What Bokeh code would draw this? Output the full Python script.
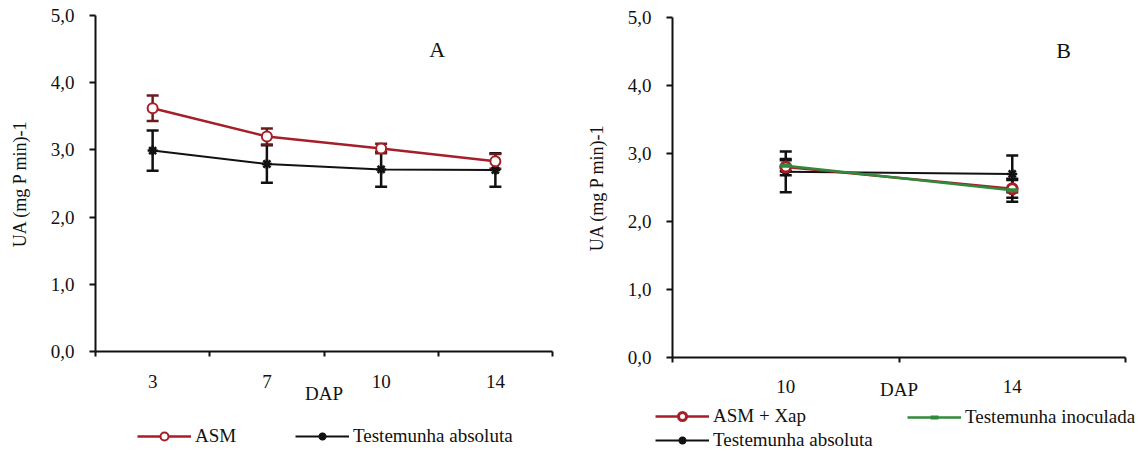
from bokeh.plotting import figure
from bokeh.models import (Range1d, FixedTicker, CustomJSTickFormatter, Whisker, TeeHead,
                          ColumnDataSource, Legend, LegendItem, Label)
from bokeh.layouts import row, column
from bokeh.embed import file_html
from bokeh.resources import INLINE

FONT = "Liberation Serif"
RED = "#A61E28"
RED_ERR = "#6A1C1C"
GREEN = "#2F8A3C"
BLACK = "#111111"

# ---------------- data ----------------
# Panel A
dap_a = ["3", "7", "10", "14"]
asm_a = [3.62, 3.20, 3.02, 2.83]
asm_a_err = [0.19, 0.12, 0.07, 0.11]
abs_a = [2.99, 2.79, 2.71, 2.70]
abs_a_err = [0.30, 0.28, 0.26, 0.25]

# Panel B
dap_b = ["10", "14"]
asmx_b = [2.80, 2.48]
asmx_b_err = [0.12, 0.13]
inoc_b = [2.82, 2.46]
inoc_b_err = [0.08, 0.17]
abs_b = [2.73, 2.70]
abs_b_err = [0.30, 0.27]

y_ticks = [0, 1, 2, 3, 4, 5]

STY = {
    "asm": dict(color=RED, marker="circle", size=10, mlw=2, fill="white", lw=2.5),
    "asmx": dict(color=RED, marker="circle", size=10, mlw=3, fill="white", lw=2.5),
    "abs": dict(color=BLACK, marker="asterisk", size=10, mlw=2.5, fill=BLACK, lw=2),
    "inoc": dict(color=GREEN, marker="dash", size=11, mlw=4, fill=GREEN, lw=2.5),
}


def no_align(f):
    try:
        f.frame_align = False
    except Exception:
        pass


def make_fig(width, height, cats, bl, br, bt, bb, x_standoff, dap_standoff):
    n = len(cats)
    p = figure(width=width, height=height, x_range=Range1d(0, n), y_range=Range1d(0, 5),
               output_backend="svg", toolbar_location=None,
               min_border_left=bl, min_border_right=br, min_border_top=bt, min_border_bottom=bb)
    no_align(p)
    p.outline_line_color = None
    p.grid.visible = False
    xa = p.xaxis[0]
    xa.ticker = FixedTicker(ticks=[i + 0.5 for i in range(n)], minor_ticks=list(range(n + 1)))
    xa.formatter = CustomJSTickFormatter(args=dict(labels=cats), code="return labels[Math.floor(tick)];")
    xa.major_tick_line_color = None
    xa.major_tick_out = 5
    xa.major_tick_in = 0
    xa.minor_tick_out = 5
    xa.minor_tick_in = 0
    xa.minor_tick_line_width = 2
    xa.minor_tick_line_color = BLACK
    xa.axis_line_width = 2
    xa.axis_line_color = BLACK
    xa.major_label_text_font = FONT
    xa.major_label_text_font_size = "19px"
    xa.major_label_text_color = BLACK
    xa.major_label_standoff = x_standoff
    xa.axis_label = "DAP"
    xa.axis_label_text_font = FONT
    xa.axis_label_text_font_size = "19px"
    xa.axis_label_text_font_style = "normal"
    xa.axis_label_text_color = BLACK
    xa.axis_label_standoff = dap_standoff
    ya = p.yaxis[0]
    ya.ticker = FixedTicker(ticks=y_ticks, minor_ticks=[])
    ya.formatter = CustomJSTickFormatter(code="return tick.toFixed(1).replace('.', ',');")
    ya.major_tick_out = 6
    ya.major_tick_in = 0
    ya.major_tick_line_width = 2
    ya.major_tick_line_color = BLACK
    ya.axis_line_width = 2
    ya.axis_line_color = BLACK
    ya.major_label_text_font = FONT
    ya.major_label_text_font_size = "19px"
    ya.major_label_text_color = BLACK
    ya.major_label_standoff = 15
    ya.axis_label = "UA (mg P min)-1"
    ya.axis_label_text_font = FONT
    ya.axis_label_text_font_size = "18px"
    ya.axis_label_text_font_style = "normal"
    ya.axis_label_text_color = BLACK
    ya.axis_label_standoff = 18
    return p


def series(p, xs, ys, errs, sty, err_color):
    src = ColumnDataSource(dict(x=xs, y=ys,
                                upper=[v + e for v, e in zip(ys, errs)],
                                lower=[v - e for v, e in zip(ys, errs)]))
    w = Whisker(base="x", upper="upper", lower="lower", source=src, dimension="height",
                line_color=err_color, line_width=2.5,
                upper_head=TeeHead(size=12, line_color=err_color, line_width=2.5),
                lower_head=TeeHead(size=12, line_color=err_color, line_width=2.5))
    p.add_layout(w)
    p.line("x", "y", source=src, line_color=sty["color"], line_width=sty["lw"])
    p.scatter("x", "y", source=src, marker=sty["marker"], size=sty["size"],
              line_color=sty["color"], fill_color=sty["fill"], line_width=sty["mlw"])
    return src


def legend_fig(width, height):
    # y range far away from the series values: the renderers here only feed the legend
    f = figure(width=width, height=height, x_range=Range1d(0, 1), y_range=Range1d(-2, -1),
               output_backend="svg", toolbar_location=None,
               x_axis_location=None, y_axis_location=None,
               min_border_left=0, min_border_right=0, min_border_top=0, min_border_bottom=0)
    no_align(f)
    f.outline_line_color = None
    f.grid.visible = False
    return f


def legend_entry(f, label, src, sty):
    rl = f.line("x", "y", source=src, line_color=sty["color"], line_width=sty["lw"])
    rm = f.scatter("x", "y", source=src, marker=sty["marker"], size=sty["size"],
                   line_color=sty["color"], fill_color=sty["fill"], line_width=sty["mlw"])
    return (label, [rl, rm])


def add_legend(f, entries, loc):
    items = [LegendItem(label=lab, renderers=rs) for lab, rs in entries]
    leg = Legend(items=items, location=loc, border_line_color=None, background_fill_alpha=0,
                 padding=0, margin=0, glyph_width=54, glyph_height=20, label_height=20,
                 label_standoff=4, spacing=2, label_text_font=FONT, label_text_font_size="19px",
                 label_text_color=BLACK, label_text_baseline="middle")
    f.add_layout(leg)


# ---------------- Panel A ----------------
pa = make_fig(583, 410, dap_a, 95, 31, 15, 59, 18, -8)
xs_a = [i + 0.5 for i in range(len(dap_a))]
src_abs_a = series(pa, xs_a, abs_a, abs_a_err, STY["abs"], BLACK)
src_asm_a = series(pa, xs_a, asm_a, asm_a_err, STY["asm"], RED_ERR)
pa.add_layout(Label(x=2.99, y=4.49, text="A", text_align="center", text_baseline="middle",
                    text_font=FONT, text_font_size="22px", text_color=BLACK))

la = legend_fig(583, 44)
add_legend(la, [legend_entry(la, "ASM", src_asm_a, STY["asm"])], (137, 7))
add_legend(la, [legend_entry(la, "Testemunha absoluta", src_abs_a, STY["abs"])], (295, 7))

# ---------------- Panel B ----------------
pb = make_fig(552, 406, dap_b, 87, 10, 17, 49, 17, -17)
xs_b = [i + 0.5 for i in range(len(dap_b))]
src_abs_b = series(pb, xs_b, abs_b, abs_b_err, STY["abs"], BLACK)
src_asmx_b = series(pb, xs_b, asmx_b, asmx_b_err, STY["asmx"], BLACK)
src_inoc_b = series(pb, xs_b, inoc_b, inoc_b_err, STY["inoc"], BLACK)
pb.add_layout(Label(x=1.727, y=4.52, text="B", text_align="center", text_baseline="middle",
                    text_font=FONT, text_font_size="22px", text_color=BLACK))

lb = legend_fig(552, 48)
add_legend(lb, [legend_entry(lb, "ASM + Xap", src_asmx_b, STY["asmx"]),
                legend_entry(lb, "Testemunha absoluta", src_abs_b, STY["abs"])], (72, 3))
add_legend(lb, [legend_entry(lb, "Testemunha inoculada", src_inoc_b, STY["inoc"])], (324, 26))

layout = row(column(pa, la), column(pb, lb))
open("out.html", "w").write(file_html(layout, INLINE))
